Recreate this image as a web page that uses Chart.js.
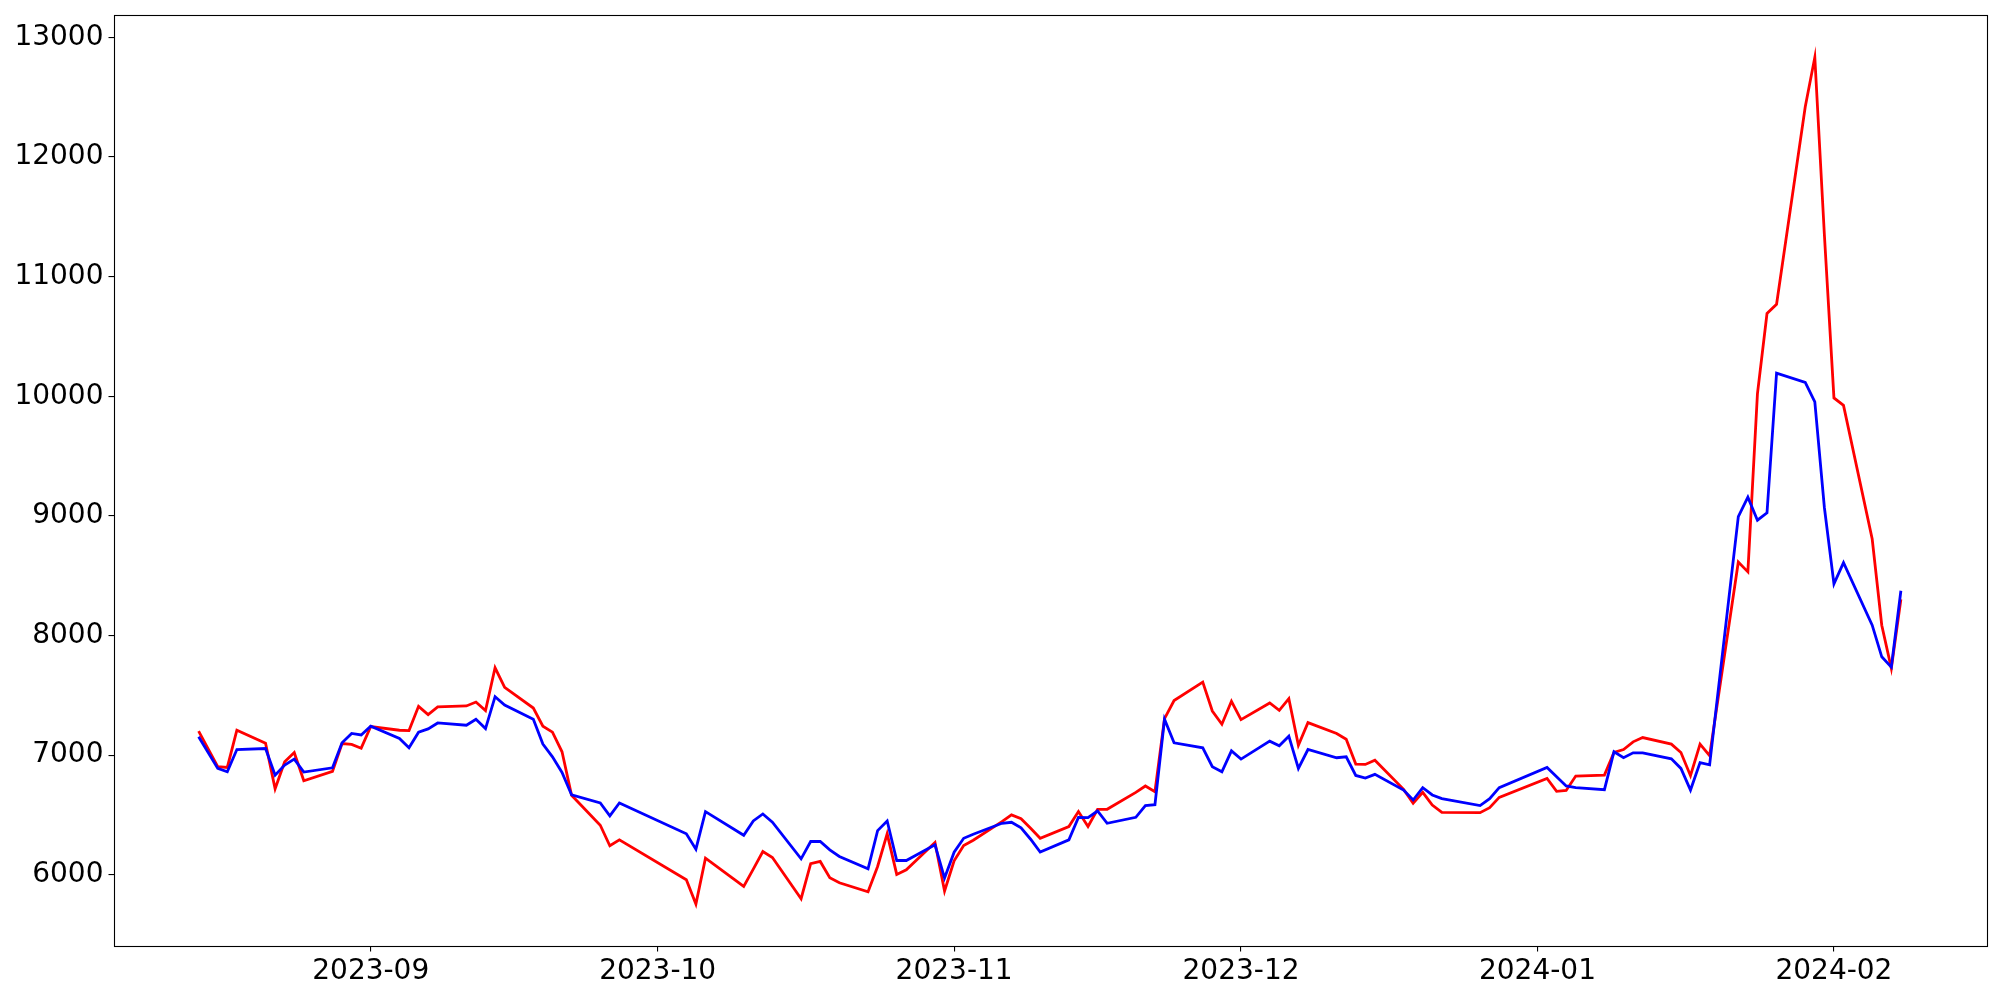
<!DOCTYPE html>
<html>
<head>
<meta charset="utf-8">
<script src="https://cdn.jsdelivr.net/npm/chart.js@4.4.0/dist/chart.umd.min.js"></script>
<style>
  body { margin: 0; background: #fff; }
  #wrap { width: 2000px; height: 1000px; }
</style>
</head>
<body>
<div id="wrap"><canvas id="priceChart" width="2000" height="1000"></canvas></div>
<script>
// trading days
const dates = [
  '2023-08-14','2023-08-16','2023-08-17','2023-08-18','2023-08-21','2023-08-22','2023-08-23','2023-08-24','2023-08-25',
  '2023-08-28','2023-08-29','2023-08-30','2023-08-31','2023-09-01','2023-09-04','2023-09-05','2023-09-06','2023-09-07',
  '2023-09-08','2023-09-11','2023-09-12','2023-09-13','2023-09-14','2023-09-15','2023-09-18','2023-09-19','2023-09-20',
  '2023-09-21','2023-09-22','2023-09-25','2023-09-26','2023-09-27','2023-10-04','2023-10-05','2023-10-06','2023-10-10',
  '2023-10-11','2023-10-12','2023-10-13','2023-10-16','2023-10-17','2023-10-18','2023-10-19','2023-10-20','2023-10-23',
  '2023-10-24','2023-10-25','2023-10-26','2023-10-27','2023-10-30','2023-10-31','2023-11-01','2023-11-02','2023-11-03',
  '2023-11-06','2023-11-07','2023-11-08','2023-11-09','2023-11-10','2023-11-13','2023-11-14','2023-11-15','2023-11-16',
  '2023-11-17','2023-11-20','2023-11-21','2023-11-22','2023-11-23','2023-11-24','2023-11-27','2023-11-28','2023-11-29',
  '2023-11-30','2023-12-01','2023-12-04','2023-12-05','2023-12-06','2023-12-07','2023-12-08','2023-12-11','2023-12-12',
  '2023-12-13','2023-12-14','2023-12-15','2023-12-18','2023-12-19','2023-12-20','2023-12-21','2023-12-22','2023-12-26',
  '2023-12-27','2023-12-28','2024-01-02','2024-01-03','2024-01-04','2024-01-05','2024-01-08','2024-01-09','2024-01-10',
  '2024-01-11','2024-01-12','2024-01-15','2024-01-16','2024-01-17','2024-01-18','2024-01-19','2024-01-22','2024-01-23',
  '2024-01-24','2024-01-25','2024-01-26','2024-01-29','2024-01-30','2024-01-31','2024-02-01','2024-02-02','2024-02-05',
  '2024-02-06','2024-02-07','2024-02-08'
];

const redValues = [
  7200,6903,6897,7208,7100,6719,6944,7022,6786,
  6864,7097,7089,7058,7239,7208,7205,7408,7339,
  7403,7411,7444,7372,7730,7567,7394,7242,7192,
  7028,6664,6414,6242,6292,5958,5755,6139,5903,
  6047,6194,6144,5800,6092,6111,5975,5933,5858,
  6069,6342,6003,6042,6269,5864,6117,6244,6289,
  6444,6500,6469,6389,6305,6403,6528,6403,6547,
  6547,6689,6742,6694,7305,7456,7611,7369,7258,
  7450,7297,7436,7375,7472,7083,7272,7181,7133,
  6925,6922,6958,6714,6597,6689,6583,6522,6519,
  6561,6647,6805,6697,6705,6825,6833,7022,7047,
  7111,7147,7092,7022,6828,7092,6996,8614,8532,
  10020,10692,10769,12420,12833,11350,9986,9924,8806,
  8086,7726,8302
];

const blueValues = [
  7153,6889,6861,7047,7055,6833,6917,6967,6858,
  6894,7103,7181,7169,7242,7139,7061,7192,7219,
  7269,7250,7300,7222,7489,7419,7300,7092,6986,
  6855,6669,6600,6492,6600,6342,6214,6528,6330,
  6450,6508,6439,6133,6278,6278,6208,6153,6050,
  6369,6450,6119,6119,6250,5972,6189,6305,6339,
  6430,6439,6392,6297,6189,6292,6480,6478,6533,
  6430,6480,6578,6586,7300,7103,7061,6903,6861,
  7036,6967,7117,7078,7158,6889,7047,6978,6986,
  6830,6808,6839,6708,6625,6728,6667,6636,6578,
  6636,6728,6897,6819,6742,6728,6711,7028,6978,
  7019,7019,6969,6889,6708,6938,6919,8993,9156,
  8964,9026,10193,10116,9953,9070,8431,8609,8086,
  7822,7735,8374
];

const monthTicks = ['2023-09','2023-10','2023-11','2023-12','2024-01','2024-02'];
const yTicks = [6000,7000,8000,9000,10000,11000,12000,13000];

function toTime(s){
  const p = s.split('-').map(Number);
  return Date.UTC(p[0], p[1]-1, p[2] || 1);
}

const times = dates.map(toTime);
const redPoints = times.map((t,i)=>({x:t, y:redValues[i]}));
const bluePoints = times.map((t,i)=>({x:t, y:blueValues[i]}));

// matplotlib style 5% margins
const tMin = Math.min(...times), tMax = Math.max(...times);
const allVals = redValues.concat(blueValues);
const vMin = Math.min(...allVals), vMax = Math.max(...allVals);
const xPad = (tMax - tMin) * 0.05, yPad = (vMax - vMin) * 0.05;

const FONT = {family: 'DejaVu Sans', size: 28};

const frame = {
  id: 'frame',
  afterDatasetsDraw(chart){
    const a = chart.chartArea, ctx = chart.ctx;
    ctx.save();
    ctx.strokeStyle = '#000';
    ctx.lineWidth = 1.1;
    ctx.strokeRect(Math.round(a.left)+0.5, Math.round(a.top)+0.5, Math.round(a.right-a.left), Math.round(a.bottom-a.top));
    ctx.restore();
  }
};

new Chart(document.getElementById('priceChart'), {
  type: 'line',
  data: {
    datasets: [
      {label: 'red', data: redPoints, borderColor: '#ff0000', borderWidth: 2.8, pointRadius: 0, tension: 0, fill: false, order: 1},
      {label: 'blue', data: bluePoints, borderColor: '#0000ff', borderWidth: 2.8, pointRadius: 0, tension: 0, fill: false, order: 0}
    ]
  },
  options: {
    responsive: false,
    animation: false,
    layout: {padding: {top: 15, right: 14, left: 0, bottom: 0}},
    plugins: {legend: {display: false}, tooltip: {enabled: false}},
    scales: {
      x: {
        type: 'linear',
        min: tMin - xPad,
        max: tMax + xPad,
        afterBuildTicks: scale => { scale.ticks = monthTicks.map(m => ({value: toTime(m)})); },
        afterFit: scale => { scale.height = 53.6; scale.paddingLeft = 0; scale.paddingRight = 0; },
        ticks: {
          color: '#000', font: FONT, padding: 4, maxRotation: 0, autoSkip: false,
          callback: v => { const d = new Date(v); return d.getUTCFullYear() + '-' + String(d.getUTCMonth()+1).padStart(2,'0'); }
        },
        grid: {drawOnChartArea: false, drawTicks: true, tickLength: 5, color: '#000', lineWidth: 1.1},
        border: {display: false}
      },
      y: {
        type: 'linear',
        min: vMin - yPad,
        max: vMax + yPad,
        afterBuildTicks: scale => { scale.ticks = yTicks.map(v => ({value: v})); },
        afterFit: scale => { scale.width = 113.5; scale.paddingTop = 0; scale.paddingBottom = 0; },
        ticks: {color: '#000', font: FONT, padding: 5, callback: v => String(v)},
        grid: {drawOnChartArea: false, drawTicks: true, tickLength: 5, color: '#000', lineWidth: 1.1},
        border: {display: false}
      }
    }
  },
  plugins: [frame]
});
</script>
</body>
</html>
